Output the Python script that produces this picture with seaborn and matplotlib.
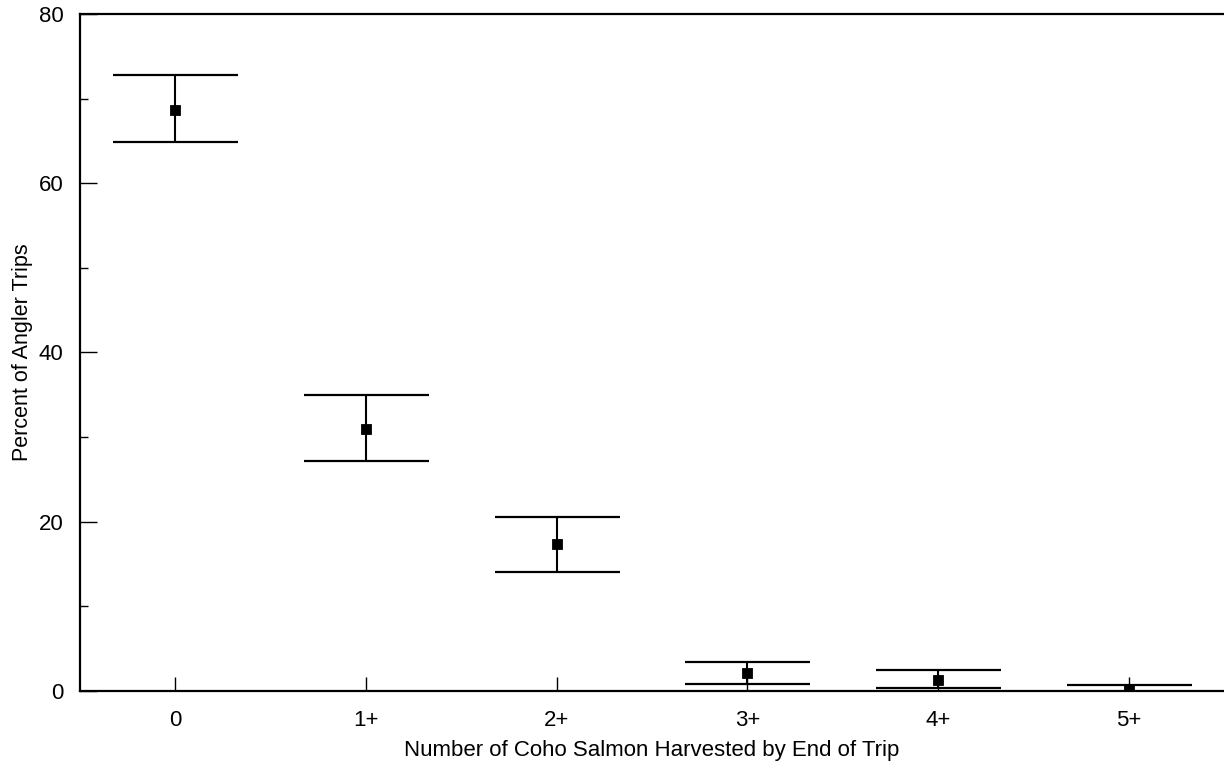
import matplotlib
matplotlib.use('Agg')
import matplotlib.pyplot as plt
import seaborn as sns
import pandas as pd
from matplotlib.ticker import MultipleLocator

# harvest categories and estimated percent of trips with CI bounds
categories = ['0', '1+', '2+', '3+', '4+', '5+']
percent = [68.7, 31.0, 17.4, 2.1, 1.3, 0.2]
upper = [72.8, 35.0, 20.6, 3.4, 2.5, 0.7]
lower = [64.9, 27.2, 14.1, 0.8, 0.3, -0.4]

df = pd.DataFrame({'cat': categories, 'pos': range(len(categories)),
                   'pct': percent, 'hi': upper, 'lo': lower})

sns.set_style('ticks')
plt.rcParams['font.family'] = ['Liberation Sans', 'DejaVu Sans']
plt.rcParams['text.color'] = 'black'
plt.rcParams['axes.labelcolor'] = 'black'
plt.rcParams['xtick.color'] = 'black'
plt.rcParams['ytick.color'] = 'black'

fig = plt.figure(figsize=(12.24, 7.68), dpi=100)
ax = fig.add_axes([0.0654, 0.1003, 0.9346, 0.8815])

ax.errorbar(df['pos'], df['pct'],
            yerr=[df['pct'] - df['lo'], df['hi'] - df['pct']],
            fmt='none', ecolor='black', elinewidth=1.5,
            capsize=45, capthick=1.6, zorder=2)
sns.scatterplot(data=df, x='pos', y='pct', marker='s', s=55,
                color='black', edgecolor='black', ax=ax, zorder=3)

ax.set_xlim(-0.5, 5.5)
ax.set_ylim(0, 80)
ax.set_xticks(df['pos'])
ax.set_xticklabels(categories)
ax.yaxis.set_major_locator(MultipleLocator(20))
ax.yaxis.set_minor_locator(MultipleLocator(10))

for side in ['left', 'bottom', 'top']:
    ax.spines[side].set_linewidth(1.6)
    ax.spines[side].set_color('black')
ax.spines['right'].set_visible(False)

ax.tick_params(axis='x', which='major', direction='in', length=10, width=1,
               pad=14, labelsize=16)
ax.tick_params(axis='y', which='major', direction='in', length=12, width=1,
               pad=12, labelsize=16)
ax.tick_params(axis='y', which='minor', direction='in', length=6, width=1)

ax.set_xlabel('Number of Coho Salmon Harvested by End of Trip', fontsize=16, labelpad=6)
ax.set_ylabel('Percent of Angler Trips', fontsize=15.5, labelpad=4)

fig.savefig('out.png', dpi=100)
